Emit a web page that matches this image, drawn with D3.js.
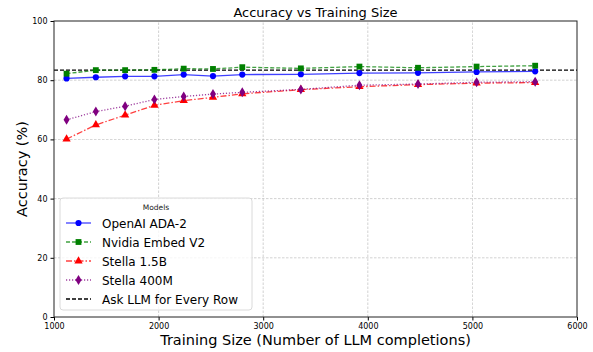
<!DOCTYPE html>
<html>
<head>
<meta charset="utf-8">
<script src="https://cdn.jsdelivr.net/npm/d3@7"></script>
<style>
  body { margin: 0; background: #fff; }
  text { font-family: "DejaVu Sans", sans-serif; }
</style>
</head>
<body>
<div id="chart"></div>
<script>
// training sizes (number of LLM completions)
const sizes = [1120, 1400, 1680, 1960, 2240, 2520, 2800, 3360, 3920, 4480, 5040, 5600];
const openai = [80.6, 81.0, 81.3, 81.3, 81.9, 81.4, 81.9, 82.0, 82.4, 82.5, 82.8, 83.0];
const nvidia = [82.2, 83.4, 83.4, 83.5, 83.9, 83.8, 84.4, 84.0, 84.6, 84.2, 84.6, 84.9];
const stella15 = [60.1, 64.9, 68.2, 71.5, 73.1, 74.2, 75.4, 76.8, 77.8, 78.5, 79.0, 79.2];
const stella400 = [66.6, 69.4, 71.2, 73.5, 74.5, 75.3, 75.9, 76.9, 78.3, 78.7, 79.3, 79.5];
const askLLM = 83.4;
const xTicks = [1000, 2000, 3000, 4000, 5000, 6000];
const yTicks = [0, 20, 40, 60, 80, 100];

const width = 593, height = 352,
    margin = {top: 21, right: 16, bottom: 35, left: 54};

const series = [
    {name: "OpenAI ADA-2", values: openai, color: "blue", dash: null, symbol: d3.symbolCircle, size: 30},
    {name: "Nvidia Embed V2", values: nvidia, color: "green", dash: "4,2", symbol: d3.symbolSquare, size: 34},
    {name: "Stella 1.5B", values: stella15, color: "red", dash: "6,2,1.5,2", symbol: d3.symbolTriangle, size: 30},
    {name: "Stella 400M", values: stella400, color: "purple", dash: "1.2,1.8", symbol: "diamond", size: 30}
];

const x = d3.scaleLinear().domain([1000, 6000]).range([margin.left, width - margin.right]);
const y = d3.scaleLinear().domain([0, 100]).range([height - margin.bottom, margin.top]);

const svg = d3.select("#chart").append("svg")
    .attr("width", width)
    .attr("height", height);

// grid
svg.append("g").selectAll("line").data(xTicks.slice(1, -1)).join("line")
    .attr("x1", d => x(d)).attr("x2", d => x(d))
    .attr("y1", y(0)).attr("y2", y(100))
    .attr("stroke", "#b0b0b0").attr("stroke-width", 0.8).attr("stroke-dasharray", "2.5,1.5").attr("opacity", 0.7);
svg.append("g").selectAll("line").data(yTicks.slice(1, -1)).join("line")
    .attr("y1", d => y(d)).attr("y2", d => y(d))
    .attr("x1", x(1000)).attr("x2", x(6000))
    .attr("stroke", "#b0b0b0").attr("stroke-width", 0.8).attr("stroke-dasharray", "2.5,1.5").attr("opacity", 0.7);

function marker(s) {
    if (s.symbol === "diamond") {
        const w = 3, h = 5;
        return `M0,${-h}L${w},0L0,${h}L${-w},0Z`;
    }
    return d3.symbol(s.symbol, s.size)();
}

// ask LLM line
svg.append("line")
    .attr("x1", x(1000)).attr("x2", x(6000))
    .attr("y1", y(askLLM)).attr("y2", y(askLLM))
    .attr("stroke", "black").attr("stroke-width", 1.1).attr("stroke-dasharray", "4,2");

const line = d3.line().x((d, i) => x(sizes[i])).y(d => y(d));

series.forEach(s => {
    svg.append("path")
        .datum(s.values)
        .attr("d", line)
        .attr("fill", "none")
        .attr("stroke", s.color)
        .attr("stroke-opacity", 0.75)
        .attr("stroke-width", 1.3)
        .attr("stroke-dasharray", s.dash);
    svg.append("g").selectAll("path").data(s.values).join("path")
        .attr("transform", (d, i) => `translate(${x(sizes[i])},${y(d)})`)
        .attr("d", marker(s))
        .attr("fill", s.color);
});

// axes
const xAxis = d3.axisBottom(x).tickValues(xTicks).tickFormat(d3.format("d")).tickSize(3.5).tickPadding(3);
const yAxis = d3.axisLeft(y).tickValues(yTicks).tickSize(3.5).tickPadding(3);

svg.append("g")
    .attr("transform", `translate(0,${y(0)})`)
    .call(xAxis)
    .call(g => g.selectAll("text").attr("font-size", 8).attr("font-family", "DejaVu Sans"));
svg.append("g")
    .attr("transform", `translate(${x(1000)},0)`)
    .call(yAxis)
    .call(g => g.selectAll("text").attr("font-size", 8).attr("font-family", "DejaVu Sans"));

svg.selectAll(".domain").remove();
svg.append("rect")
    .attr("x", x(1000)).attr("y", y(100))
    .attr("width", x(6000) - x(1000)).attr("height", y(0) - y(100))
    .attr("fill", "none").attr("stroke", "#222").attr("stroke-width", 1);

// title & labels
svg.append("text")
    .attr("x", (x(1000) + x(6000)) / 2).attr("y", 17)
    .attr("text-anchor", "middle").attr("font-size", 13)
    .text("Accuracy vs Training Size");
svg.append("text")
    .attr("x", (x(1000) + x(6000)) / 2).attr("y", 345)
    .attr("text-anchor", "middle").attr("font-size", 14.5)
    .text("Training Size (Number of LLM completions)");
svg.append("text")
    .attr("transform", `translate(27,${(y(0) + y(100)) / 2}) rotate(-90)`)
    .attr("text-anchor", "middle").attr("font-size", 14.5)
    .text("Accuracy (%)");

// legend
const legend = svg.append("g").attr("transform", "translate(60,198)");
legend.append("rect")
    .attr("width", 192).attr("height", 112).attr("rx", 3)
    .attr("fill", "white").attr("fill-opacity", 0.8)
    .attr("stroke", "#d0d0d0").attr("stroke-width", 0.8);
legend.append("text")
    .attr("x", 96).attr("y", 12)
    .attr("text-anchor", "middle").attr("font-size", 7.5).attr("fill", "#222")
    .text("Models");

const entries = series.concat([{name: "Ask LLM for Every Row", color: "black", dash: "4,2", symbol: null}]);
entries.forEach((s, i) => {
    const yy = 25 + i * 19;
    legend.append("line")
        .attr("x1", 6).attr("x2", 31).attr("y1", yy).attr("y2", yy)
        .attr("stroke", s.color).attr("stroke-width", 1.3)
        .attr("stroke-opacity", s.symbol ? 0.75 : 1)
        .attr("stroke-dasharray", s.dash);
    if (s.symbol) {
        legend.append("path")
            .attr("transform", `translate(18.5,${yy})`)
            .attr("d", marker(s))
            .attr("fill", s.color);
    }
    legend.append("text")
        .attr("x", 42).attr("y", yy + 4.5)
        .attr("font-size", 12)
        .text(s.name);
});
</script>
</body>
</html>
